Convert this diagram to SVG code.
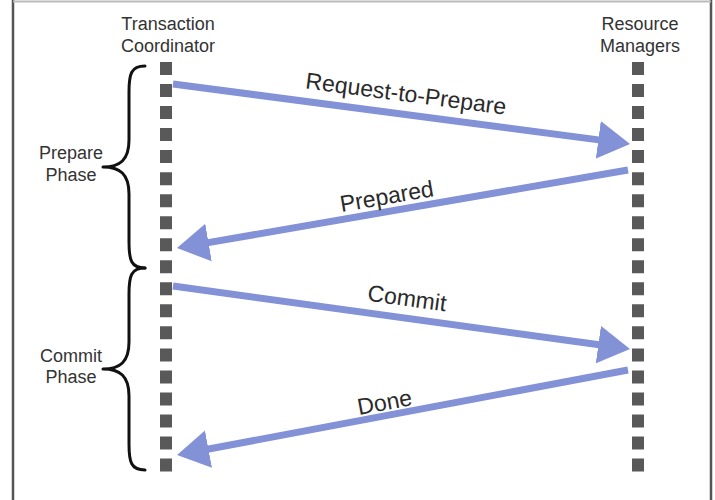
<svg xmlns="http://www.w3.org/2000/svg" width="715" height="500" viewBox="0 0 715 500">
<style>
  .hdr { font-family: "Liberation Sans", Arial, sans-serif; font-size: 18px; fill: #333; text-anchor: middle; }
  .lbl { font-family: "Liberation Sans", Arial, sans-serif; font-size: 23px; fill: #2a2a2a; text-anchor: middle; }
  .life { stroke: #595959; stroke-width: 12; stroke-dasharray: 13 9.03; fill: none; }
  .brace { stroke: #111; stroke-width: 3; fill: none; stroke-linecap: round; stroke-linejoin: round; }
  .msg { stroke: #8391d6; stroke-width: 7; fill: none; }
  .frame { stroke: #555; stroke-width: 2.5; }
</style>
<defs>
  <marker id="ah" markerUnits="userSpaceOnUse" markerWidth="34" markerHeight="40" refX="12" refY="19" orient="auto">
    <path d="M0,0 L32,19 L0,38 Z" fill="#8391d6"/>
  </marker>
</defs>
<rect x="0" y="0" width="715" height="500" fill="#fff"/>
<g id="frame">
  <line class="frame" x1="13" y1="0" x2="13" y2="500"/>
  <line class="frame" x1="711" y1="0" x2="711" y2="500"/>
  <line x1="13" y1="1.5" x2="711" y2="1.5" stroke="#bbb" stroke-width="2"/>
</g>
<g id="coordinator">
  <text class="hdr" x="168" y="30">Transaction</text>
  <text class="hdr" x="168" y="52">Coordinator</text>
  <line class="life" x1="166" y1="62" x2="166" y2="472"/>
</g>
<g id="managers">
  <text class="hdr" x="640" y="30">Resource</text>
  <text class="hdr" x="640" y="52">Managers</text>
  <line class="life" x1="638" y1="62" x2="638" y2="472"/>
</g>
<g id="prepare-phase">
  <path class="brace" d="M145,66 C131,66 129,74 129,92 L129,140 C129,160 120,167 103,167 C120,167 129,174 129,194 L129,242 C129,260 131,268 145,268"/>
  <text class="hdr" x="71" y="159">Prepare</text>
  <text class="hdr" x="71" y="181">Phase</text>
</g>
<g id="commit-phase">
  <path class="brace" d="M145,268 C131,268 129,276 129,294 L129,342 C129,362 120,369 103,369 C120,369 129,376 129,396 L129,444 C129,462 131,470 145,470"/>
  <text class="hdr" x="71" y="362">Commit</text>
  <text class="hdr" x="71" y="383">Phase</text>
</g>
<g id="connectors">
  <line class="msg" x1="173" y1="84" x2="610.2" y2="141.4" marker-end="url(#ah)"/>
  <line class="msg" x1="628" y1="170" x2="196.7" y2="244.6" marker-end="url(#ah)"/>
  <line class="msg" x1="173" y1="286" x2="610.2" y2="346.3" marker-end="url(#ah)"/>
  <line class="msg" x1="628" y1="370" x2="196.7" y2="451.3" marker-end="url(#ah)"/>
</g>
<g id="labels">
  <text class="lbl" transform="translate(405,101.5) rotate(7.5)">Request-to-Prepare</text>
  <text class="lbl" transform="translate(388,204) rotate(-9.8)">Prepared</text>
  <text class="lbl" transform="translate(406,306) rotate(7.8)">Commit</text>
  <text class="lbl" transform="translate(386,410) rotate(-10.7)">Done</text>
</g>
</svg>
